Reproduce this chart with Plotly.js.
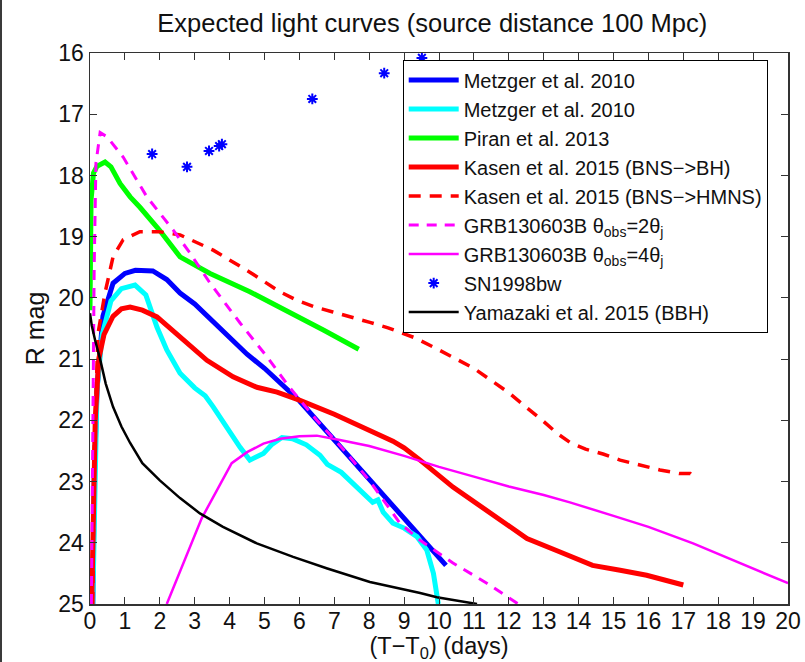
<!DOCTYPE html>
<html>
<head>
<meta charset="utf-8">
<script src="https://cdn.plot.ly/plotly-3.0.1.min.js"></script>
<style>
  html, body { margin: 0; padding: 0; background: #ffffff; }
  #chart { width: 805px; height: 662px; }
</style>
</head>
<body>
<div id="chart"></div>
<script>
// Light curve models, time since merger (days) vs R-band magnitude
const metzgerBlueT = [0.08, 0.12, 0.2, 0.37, 0.66, 1.0, 1.3, 1.8, 2.2, 2.58, 3.0, 3.5, 4.0, 4.5, 5.0, 5.36, 6.0, 6.5, 7.0, 7.5, 8.0, 8.5, 9.0, 9.5, 10.2];
const metzgerBlueMag = [25, 23, 21.5, 20.3, 19.76, 19.6, 19.55, 19.56, 19.7, 19.92, 20.1, 20.37, 20.66, 20.92, 21.15, 21.34, 21.68, 22.0, 22.32, 22.63, 22.95, 23.27, 23.6, 23.92, 24.37];

const metzgerCyanT = [0.08, 0.12, 0.2, 0.35, 0.6, 0.9, 1.29, 1.6, 1.92, 2.2, 2.58, 3.0, 3.3, 3.53, 4.0, 4.3, 4.58, 4.8, 4.97, 5.2, 5.5, 5.8, 6.2, 6.59, 6.8, 7.2, 7.54, 7.8, 8.1, 8.25, 8.4, 8.68, 9.0, 9.37, 9.65, 9.84, 9.98];
const metzgerCyanMag = [25, 23.5, 21.5, 20.6, 20.05, 19.85, 19.79, 19.95, 20.48, 20.85, 21.23, 21.47, 21.6, 21.78, 22.2, 22.44, 22.65, 22.6, 22.54, 22.4, 22.28, 22.3, 22.4, 22.57, 22.72, 22.85, 23.03, 23.18, 23.34, 23.3, 23.5, 23.68, 23.76, 23.9, 24.12, 24.5, 25];

const piranT = [0, 0.03, 0.1, 0.2, 0.43, 0.6, 0.86, 1.15, 1.43, 2.0, 2.58, 3.44, 4.58, 5.73, 6.7, 7.7];
const piranMag = [20.2, 18.4, 17.96, 17.85, 17.78, 17.86, 18.13, 18.35, 18.52, 18.9, 19.33, 19.6, 19.9, 20.23, 20.53, 20.84];

const kasenBhT = [0.05, 0.1, 0.15, 0.25, 0.4, 0.66, 0.9, 1.15, 1.5, 1.92, 2.58, 3.35, 4.1, 4.78, 5.36, 6.0, 7.0, 7.6, 8.2, 8.68, 9.0, 9.46, 10.4, 11.37, 12.52, 13.47, 14.4, 15.19, 15.95, 17.0];
const kasenBhMag = [25, 23.5, 22, 21, 20.6, 20.3, 20.18, 20.15, 20.2, 20.31, 20.64, 21.02, 21.29, 21.46, 21.54, 21.67, 21.9, 22.05, 22.2, 22.34, 22.45, 22.65, 23.09, 23.47, 23.93, 24.15, 24.37, 24.45, 24.53, 24.69];

const kasenHmnsT = [0.08, 0.12, 0.23, 0.43, 0.66, 0.95, 1.43, 2.0, 2.58, 3.53, 4.58, 5.44, 5.93, 6.45, 6.96, 7.5, 8.02, 8.54, 9.3, 10.0, 11.0, 12.0, 12.5, 13.0, 13.4, 13.75, 14.2, 14.7, 15.19, 15.76, 16.33, 16.9, 17.2, 17.36];
const kasenHmnsMag = [25, 22.5, 20.58, 19.92, 19.33, 19.05, 18.92, 18.92, 18.97, 19.22, 19.58, 19.9, 20.04, 20.15, 20.23, 20.31, 20.4, 20.49, 20.65, 20.85, 21.15, 21.55, 21.78, 22.02, 22.22, 22.36, 22.47, 22.55, 22.65, 22.73, 22.81, 22.87, 22.87, 22.96];

const grb2T = [0.04, 0.08, 0.12, 0.17, 0.29, 0.49, 0.95, 1.63, 2.38, 2.87, 3.44, 4.3, 5.07, 5.7, 6.5, 7.3, 8.0, 8.88, 9.46, 10.4, 11.37, 12.27];
const grb2Mag = [25, 22, 19.5, 17.8, 17.3, 17.37, 17.7, 18.35, 18.89, 19.27, 19.76, 20.41, 20.96, 21.45, 22.0, 22.5, 22.98, 23.68, 23.96, 24.33, 24.66, 25.0];

const grb4T = [2.2, 3.2, 4.06, 4.5, 4.97, 5.45, 6.0, 6.5, 7.16, 8.0, 9.0, 10.0, 11.0, 12.0, 13.0, 13.75, 15.0, 16.0, 17.28, 18.5, 20.0];
const grb4Mag = [25, 23.6, 22.7, 22.52, 22.38, 22.3, 22.26, 22.25, 22.32, 22.42, 22.58, 22.76, 22.92, 23.08, 23.22, 23.34, 23.56, 23.74, 24.01, 24.3, 24.66];

const sn1998bwT = [1.78, 2.78, 3.41, 3.70, 3.78, 6.37, 8.43, 9.51];
const sn1998bwMag = [17.65, 17.86, 17.6, 17.52, 17.49, 16.75, 16.33, 16.08];

const yamazakiT = [0, 0.05, 0.15, 0.29, 0.45, 0.66, 0.9, 1.15, 1.5, 2.0, 2.58, 3.15, 3.81, 4.78, 5.82, 6.8, 8.02, 9.0, 9.46, 9.94, 10.8, 11.09];
const yamazakiMag = [20.25, 20.45, 20.7, 21.0, 21.4, 21.78, 22.1, 22.37, 22.7, 22.98, 23.27, 23.52, 23.74, 24.01, 24.23, 24.42, 24.64, 24.76, 24.82, 24.89, 24.97, 25.0];

const xTicks = [0,1,2,3,4,5,6,7,8,9,10,11,12,13,14,15,16,17,18,19,20];
const yTicks = [16,17,18,19,20,21,22,23,24,25];

const FONT = '"Liberation Sans", Arial, Helvetica, sans-serif';

function curve(t, m, name, color, width, dash) {
  return {
    x: t, y: m, name: name, type: 'scatter', mode: 'lines',
    line: { color: color, width: width, dash: dash || 'solid', shape: 'linear' }
  };
}

const traces = [
  curve(metzgerBlueT, metzgerBlueMag, 'Metzger et al. 2010', '#0000ff', 5),
  curve(metzgerCyanT, metzgerCyanMag, 'Metzger et al. 2010', '#00ffff', 5),
  curve(piranT, piranMag, 'Piran et al. 2013', '#00ff00', 5),
  curve(kasenBhT, kasenBhMag, 'Kasen et al. 2015 (BNS−>BH)', '#ff0000', 5),
  curve(kasenHmnsT, kasenHmnsMag, 'Kasen et al. 2015 (BNS−>HMNS)', '#ff0000', 3.5, '12px,9px'),
  curve(grb2T, grb2Mag, 'GRB130603B θ<sub>obs</sub>=2θ<sub>j</sub>', '#ff00ff', 3, '10px,8px'),
  curve(grb4T, grb4Mag, 'GRB130603B θ<sub>obs</sub>=4θ<sub>j</sub>', '#ff00ff', 2.5),
  {
    x: sn1998bwT, y: sn1998bwMag, name: 'SN1998bw', type: 'scatter', mode: 'markers',
    marker: { symbol: 'asterisk-open', size: 9, color: '#0000ff', line: { color: '#0000ff', width: 2 } }
  },
  curve(yamazakiT, yamazakiMag, 'Yamazaki et al. 2015 (BBH)', '#000000', 2.5)
];

const axisCommon = {
  showline: true, linecolor: '#333333', linewidth: 1.5, mirror: 'ticks',
  ticks: 'inside', ticklen: 7, tickwidth: 1, tickcolor: '#333333',
  showgrid: false, zeroline: false,
  tickfont: { family: FONT, size: 23, color: '#111111' }
};

const layout = {
  width: 805, height: 662,
  margin: { l: 90, r: 17, t: 53, b: 58 },
  paper_bgcolor: '#ffffff', plot_bgcolor: '#ffffff',
  font: { family: FONT, color: '#111111' },
  title: {
    text: 'Expected light curves (source distance 100 Mpc)',
    font: { family: FONT, size: 25.5, color: '#111111' },
    x: 0.537, xanchor: 'center', y: 0.965, yanchor: 'middle'
  },
  xaxis: Object.assign({}, axisCommon, {
    range: [0, 20], tickvals: xTicks, ticktext: xTicks.map(String),
    ticklabelstandoff: -4,
    title: { text: '(T−T<sub>0</sub>) (days)', font: { family: FONT, size: 23.5, color: '#111111' }, standoff: 6 }
  }),
  yaxis: Object.assign({}, axisCommon, {
    range: [25, 16], tickvals: yTicks, ticktext: yTicks.map(String),
    title: { text: 'R mag', font: { family: FONT, size: 25, color: '#111111' }, standoff: 6 }
  }),
  legend: {
    x: 0.448, xanchor: 'left', y: 0.988, yanchor: 'top',
    bgcolor: '#ffffff', bordercolor: '#000000', borderwidth: 1,
    font: { family: FONT, size: 20, color: '#111111' },
    itemwidth: 50, tracegroupgap: 0
  },
  showlegend: true,
  shapes: [
    { type: 'line', xref: 'paper', yref: 'paper', x0: -0.1275, x1: -0.1275, y0: -0.11, y1: 1.1,
      line: { color: '#3a3a3a', width: 2 } }
  ]
};

Plotly.newPlot('chart', traces, layout, { displayModeBar: false, staticPlot: true });
</script>
</body>
</html>
